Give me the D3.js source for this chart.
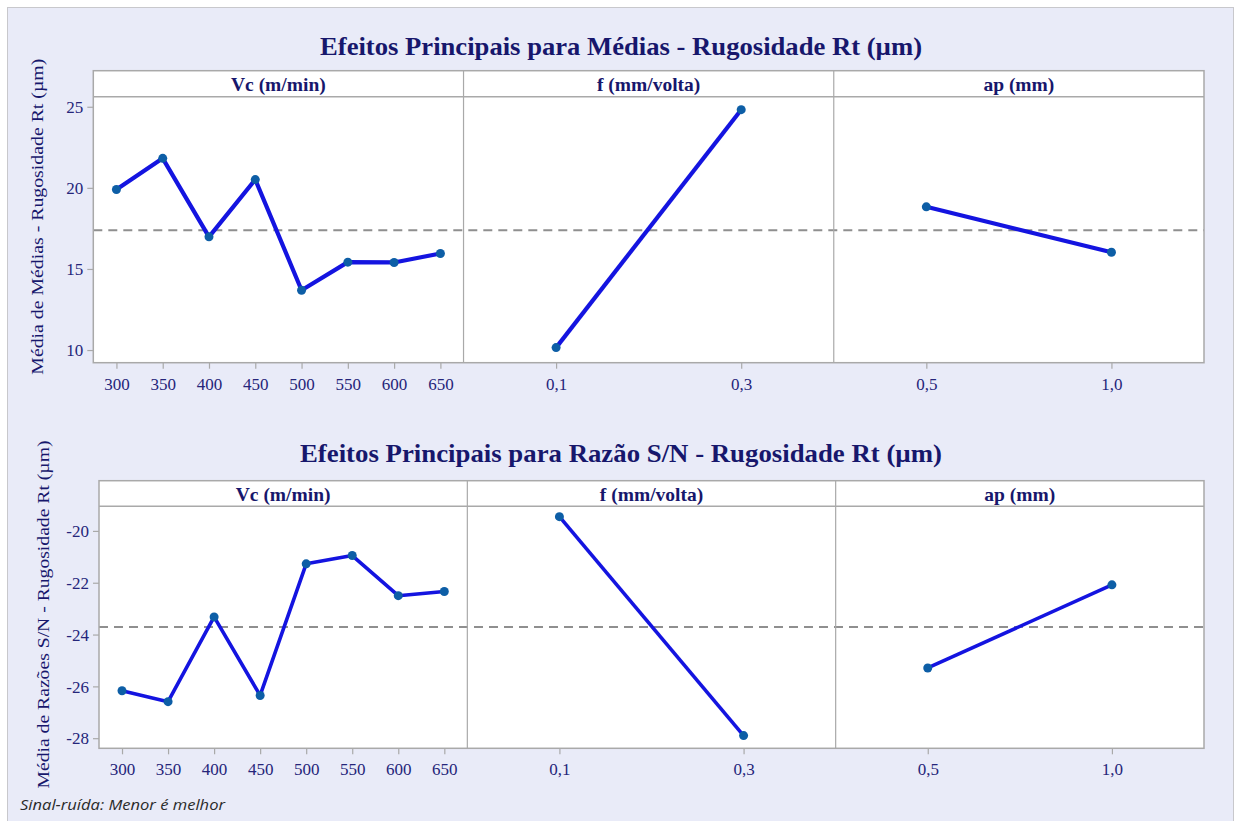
<!DOCTYPE html>
<html>
<head>
<meta charset="utf-8">
<script src="https://cdn.jsdelivr.net/npm/d3@7"></script>
<style>
  html, body { margin: 0; padding: 0; background: #ffffff; }
  svg { display: block; }
</style>
</head>
<body>
<svg id="chart" width="1236" height="821"></svg>
<script>
// Factor levels
const vcLevels = ["300", "350", "400", "450", "500", "550", "600", "650"];
const fLevels = ["0,1", "0,3"];
const apLevels = ["0,5", "1,0"];
const factorNames = ["Vc (m/min)", "f (mm/volta)", "ap (mm)"];

// Main effects: means of Rt (µm)
const meanVc = [19.90, 21.82, 16.98, 20.51, 13.69, 15.42, 15.40, 15.95];
const meanF = [10.15, 24.82];
const meanAp = [18.83, 16.03];
const meanGrand = 17.39;
const meanTicks = [10, 15, 20, 25];

// Main effects: S/N ratios (smaller is better)
const snVc = [-26.17, -26.59, -23.32, -26.35, -21.27, -20.95, -22.50, -22.34];
const snF = [-19.45, -27.90];
const snAp = [-25.29, -22.08];
const snGrand = -23.71;
const snTicks = [-28, -26, -24, -22, -20];

const svg = d3.select("#chart");
const serif = "'Liberation Serif', 'Times New Roman', serif";
const navy = "#17176c";
const tickInk = "#25257a";
const frameGray = "#a9a9a9";
const lineBlue = "#1414e0";
const dotBlue = "#0d5ea6";

// page background and outer frame
svg.append("rect").attr("x", 0).attr("y", 0).attr("width", 1236).attr("height", 821).attr("fill", "#ffffff");
svg.append("rect").attr("x", 7.5).attr("y", 7.5).attr("width", 1226).attr("height", 830)
  .attr("fill", "#e9ebf8").attr("stroke", "#c8c8cc").attr("stroke-width", 1);

function drawBlock(cfg) {
  const g = svg.append("g");
  const { left, right, top, stripBottom, bottom } = cfg;
  const panelW = (right - left) / 3;

  // title
  g.append("text")
    .attr("x", 621).attr("y", cfg.titleY)
    .attr("text-anchor", "middle")
    .attr("font-family", serif).attr("font-weight", "bold").attr("font-size", 25)
    .attr("fill", navy)
    .attr("textLength", cfg.titleLen).attr("lengthAdjust", "spacingAndGlyphs")
    .text(cfg.title);

  const y = d3.scaleLinear().domain(cfg.yDomain).range([bottom, stripBottom]);

  // panel backgrounds
  g.append("rect").attr("x", left).attr("y", top)
    .attr("width", right - left).attr("height", bottom - top)
    .attr("fill", "#ffffff");

  const panels = [
    { levels: vcLevels, values: cfg.vc },
    { levels: fLevels, values: cfg.f },
    { levels: apLevels, values: cfg.ap }
  ];

  // grand mean reference line across all panels
  g.append("line")
    .attr("x1", left).attr("x2", right)
    .attr("y1", y(cfg.grand)).attr("y2", y(cfg.grand))
    .attr("stroke", "#8f8f8f").attr("stroke-width", 2)
    .attr("stroke-dasharray", "9,6");

  panels.forEach((p, i) => {
    const x0 = left + i * panelW;
    const x = d3.scalePoint().domain(p.levels).range([x0, x0 + panelW]).padding(0.5);
    const pts = p.levels.map((lv, k) => [x(lv), y(p.values[k])]);

    g.append("path")
      .attr("d", d3.line()(pts))
      .attr("fill", "none").attr("stroke", lineBlue)
      .attr("stroke-width", cfg.lineW).attr("stroke-linejoin", "round");

    g.selectAll(null).data(pts).enter().append("circle")
      .attr("cx", d => d[0]).attr("cy", d => d[1]).attr("r", 4.5)
      .attr("fill", dotBlue);

    // x axis ticks and labels
    const ax = g.append("g").attr("transform", `translate(0,${bottom})`)
      .call(d3.axisBottom(x).tickSize(6).tickSizeOuter(0));
    ax.select(".domain").remove();
    ax.selectAll(".tick line").attr("stroke", frameGray).attr("stroke-width", 1.2);
    ax.selectAll(".tick text")
      .attr("y", 0).attr("dy", 0).attr("transform", "translate(0,27)")
      .attr("font-family", serif).attr("font-size", 17).attr("fill", tickInk);

    // strip label
    g.append("text")
      .attr("x", x0 + panelW / 2).attr("y", stripBottom - 5.5)
      .attr("text-anchor", "middle")
      .attr("font-family", serif).attr("font-weight", "bold").attr("font-size", 19.5)
      .attr("fill", navy)
      .text(factorNames[i]);

    if (i > 0) {
      g.append("line").attr("x1", x0).attr("x2", x0).attr("y1", top).attr("y2", bottom)
        .attr("stroke", frameGray).attr("stroke-width", 1.2);
    }
  });

  // strip separator and frame
  g.append("line").attr("x1", left).attr("x2", right)
    .attr("y1", stripBottom).attr("y2", stripBottom)
    .attr("stroke", frameGray).attr("stroke-width", 1.5);
  g.append("rect").attr("x", left).attr("y", top)
    .attr("width", right - left).attr("height", bottom - top)
    .attr("fill", "none").attr("stroke", frameGray).attr("stroke-width", 1.5);

  // y axis
  const ay = g.append("g").attr("transform", `translate(${left},0)`)
    .call(d3.axisLeft(y).tickValues(cfg.ticks).tickFormat(d3.format("d")).tickSize(6).tickSizeOuter(0));
  ay.select(".domain").remove();
  ay.selectAll(".tick line").attr("stroke", frameGray).attr("stroke-width", 1.2);
  ay.selectAll(".tick text")
    .attr("x", -10).attr("dy", "0.34em")
    .attr("font-family", serif).attr("font-size", 17).attr("fill", tickInk)
    .text(d => String(d));

  // y axis title
  g.append("text")
    .attr("transform", `translate(${cfg.yLabelX},${(top + bottom) / 2}) rotate(-90)`)
    .attr("text-anchor", "middle")
    .attr("font-family", serif).attr("font-size", 17.5)
    .attr("fill", navy)
    .attr("textLength", cfg.yLabelLen).attr("lengthAdjust", "spacingAndGlyphs")
    .text(cfg.yLabel);
}

drawBlock({
  title: "Efeitos Principais para Médias - Rugosidade Rt (µm)",
  titleY: 54.5, titleLen: 602,
  left: 93.3, right: 1204, top: 70.7, stripBottom: 96.7, bottom: 362.7,
  yDomain: [9.22, 25.62], ticks: meanTicks,
  vc: meanVc, f: meanF, ap: meanAp, grand: meanGrand,
  lineW: 4.2,
  yLabel: "Média de Médias - Rugosidade Rt (µm)", yLabelX: 43, yLabelLen: 316
});

drawBlock({
  title: "Efeitos Principais para Razão S/N - Rugosidade Rt (µm)",
  titleY: 461.7, titleLen: 642,
  left: 99, right: 1204, top: 480.7, stripBottom: 506.3, bottom: 748.3,
  yDomain: [-28.39, -19.05], ticks: snTicks,
  vc: snVc, f: snF, ap: snAp, grand: snGrand,
  lineW: 3.6,
  yLabel: "Média de Razões S/N - Rugosidade Rt (µm)", yLabelX: 49, yLabelLen: 348
});

// footnote
svg.append("text")
  .attr("x", 20).attr("y", 810)
  .attr("font-family", "'Open Sans', 'Noto Sans', sans-serif")
  .attr("font-style", "italic").attr("font-size", 14)
  .attr("fill", "#2a2a2a")
  .attr("textLength", 205).attr("lengthAdjust", "spacingAndGlyphs")
  .text("Sinal-ruída: Menor é melhor");
</script>
</body>
</html>
